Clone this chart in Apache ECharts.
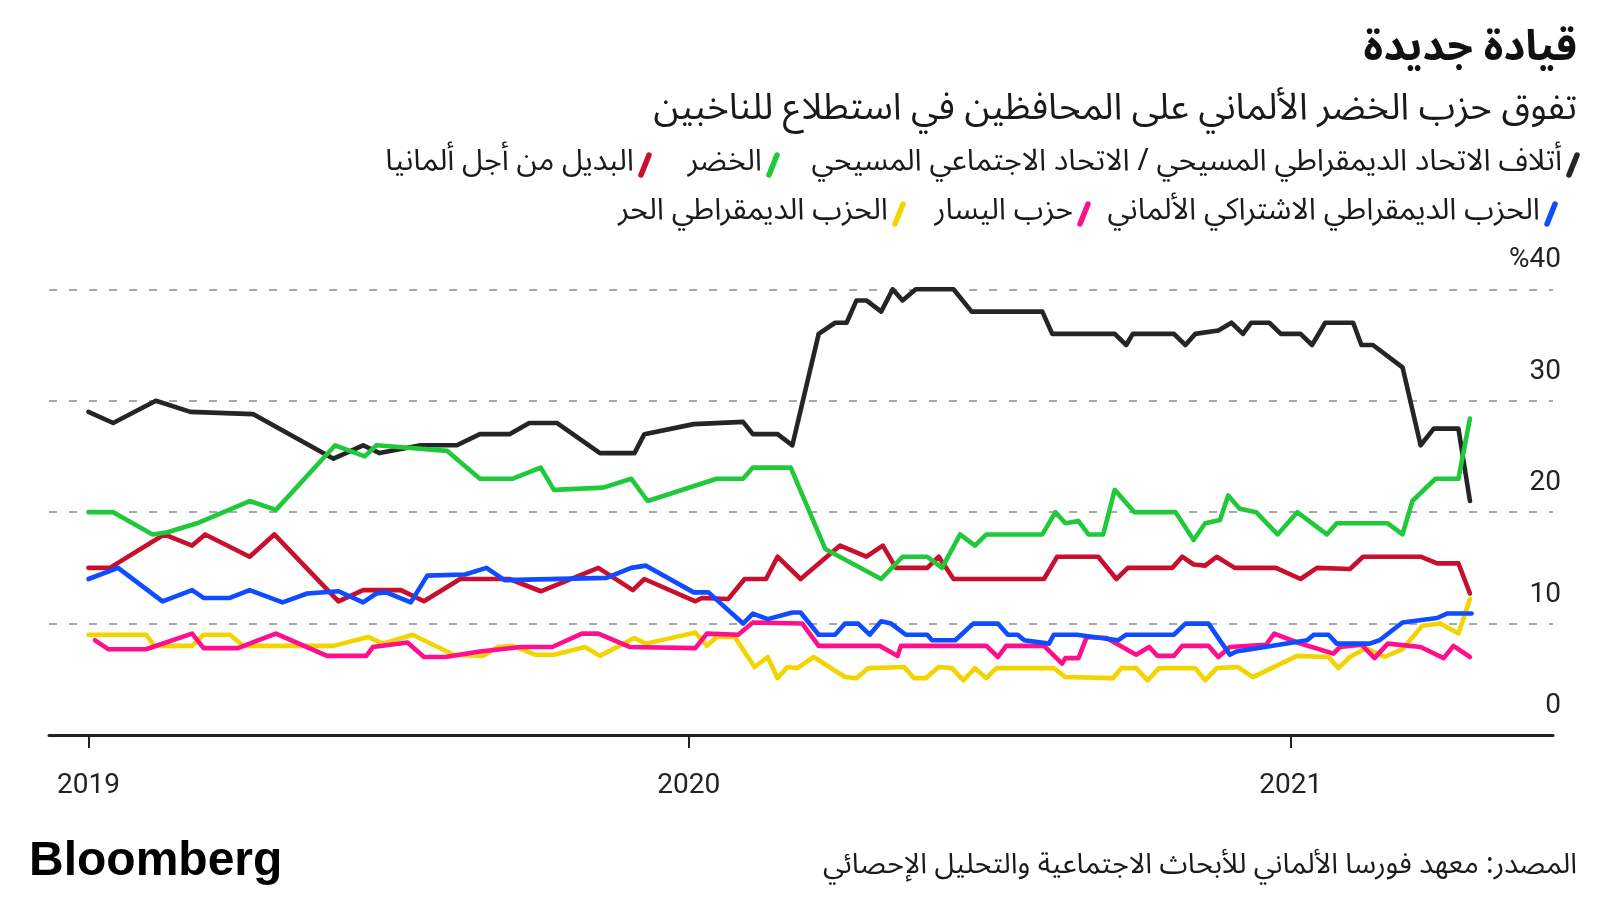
<!DOCTYPE html>
<html><head><meta charset="utf-8">
<script src="https://cdn.jsdelivr.net/npm/echarts@6/dist/echarts.min.js"></script>
<style>html,body{margin:0;padding:0;background:#fff}#c{width:1600px;height:900px}</style>
</head><body><div id="c"></div>
<script>
// ---------- DATA ----------
const xTickLabels = ['2019', '2020', '2021'];
const yTicks = [0, 10, 20, 30, 40];
const yTickLabels = ['0', '10', '20', '30', '%40'];

const seriesNames = [
  'أتلاف الاتحاد الديمقراطي المسيحي / الاتحاد الاجتماعي المسيحي',
  'الخضر',
  'البديل من أجل ألمانيا',
  'الحزب الديمقراطي الاشتراكي الألماني',
  'حزب اليسار',
  'الحزب الديمقراطي الحر'
];

const cduCsu = [['2019-01-01',29],['2019-01-16',28],['2019-02-11',30],['2019-03-04',29],['2019-04-11',28.8],['2019-05-30',24.8],['2019-06-17',26],['2019-06-27',25.3],['2019-07-22',26],['2019-08-13',26],['2019-08-27',27],['2019-09-14',27],['2019-09-26',28],['2019-10-13',28],['2019-11-08',25.3],['2019-11-29',25.3],['2019-12-05',27],['2020-01-04',27.9],['2020-02-03',28.1],['2020-02-09',27],['2020-02-24',27],['2020-03-04',26],['2020-03-20',36],['2020-03-30',37],['2020-04-06',37],['2020-04-12',39],['2020-04-18',39],['2020-04-27',38],['2020-05-04',40],['2020-05-10',39],['2020-05-18',40],['2020-06-10',40],['2020-06-21',38],['2020-08-03',38],['2020-08-09',36],['2020-09-16',36],['2020-09-23',35],['2020-09-27',36],['2020-10-22',36],['2020-10-29',35],['2020-11-04',36],['2020-11-18',36.3],['2020-11-26',37],['2020-12-03',36],['2020-12-08',37],['2020-12-19',37],['2020-12-26',36],['2021-01-07',36],['2021-01-14',35],['2021-01-22',37],['2021-02-08',37],['2021-02-13',35],['2021-02-20',35],['2021-03-10',33],['2021-03-21',26],['2021-03-29',27.5],['2021-04-13',27.5],['2021-04-20',21]];

const greens = [['2019-01-01',20],['2019-01-16',20],['2019-02-09',18],['2019-02-18',18.2],['2019-03-08',19],['2019-04-09',21],['2019-04-25',20.2],['2019-05-31',26],['2019-06-18',25],['2019-06-25',26],['2019-08-07',25.5],['2019-08-27',23],['2019-09-16',23],['2019-10-03',24],['2019-10-11',22],['2019-11-10',22.2],['2019-11-27',23],['2019-12-07',21],['2020-01-18',23],['2020-02-03',23],['2020-02-09',24],['2020-03-03',24],['2020-03-24',16.7],['2020-04-27',14],['2020-05-10',16],['2020-05-25',16],['2020-06-03',15],['2020-06-14',18],['2020-06-23',17],['2020-06-30',18],['2020-08-03',18],['2020-08-11',20],['2020-08-17',19],['2020-08-25',19.2],['2020-08-31',18],['2020-09-09',18],['2020-09-16',22],['2020-09-28',20],['2020-10-23',20],['2020-11-03',17.5],['2020-11-10',19],['2020-11-19',19.3],['2020-11-24',21.5],['2020-12-01',20.3],['2020-12-11',20],['2020-12-24',18],['2021-01-05',20],['2021-01-23',18],['2021-01-29',19],['2021-03-01',19],['2021-03-10',18],['2021-03-16',21],['2021-03-30',23],['2021-04-13',23],['2021-04-20',28.4]];

const afd = [['2019-01-01',15],['2019-01-14',15],['2019-02-16',18],['2019-03-05',17],['2019-03-13',18],['2019-04-09',16],['2019-04-24',18],['2019-06-02',12],['2019-06-17',13],['2019-07-10',13],['2019-07-24',12],['2019-08-15',14],['2019-09-14',14],['2019-10-03',12.9],['2019-11-07',15],['2019-11-28',13],['2019-12-05',14],['2020-01-05',12],['2020-01-09',12.3],['2020-01-25',12.2],['2020-02-04',14],['2020-02-17',14],['2020-02-24',16],['2020-03-09',14],['2020-04-02',17],['2020-04-18',16],['2020-04-28',17],['2020-05-06',15],['2020-05-25',15],['2020-06-01',16],['2020-06-10',14],['2020-08-04',14],['2020-08-12',16],['2020-09-06',16],['2020-09-17',14],['2020-09-24',15],['2020-10-21',15],['2020-10-27',16],['2020-11-03',15.3],['2020-11-10',15.2],['2020-11-17',16],['2020-11-28',15],['2020-12-23',15],['2021-01-07',14],['2021-01-17',15],['2021-02-06',14.9],['2021-02-14',16],['2021-03-21',16],['2021-03-31',15.4],['2021-04-13',15.4],['2021-04-20',12.7]];

const spd = [['2019-01-01',14],['2019-01-19',15],['2019-02-15',12],['2019-03-05',13],['2019-03-12',12.3],['2019-03-28',12.3],['2019-04-09',13],['2019-04-29',11.9],['2019-05-14',12.7],['2019-06-02',12.9],['2019-06-17',11.9],['2019-06-25',12.7],['2019-07-01',12.8],['2019-07-16',11.9],['2019-07-26',14.3],['2019-08-18',14.4],['2019-08-31',15],['2019-09-11',13.9],['2019-11-12',14.1],['2019-11-27',15],['2019-12-06',15.2],['2020-01-04',12.8],['2020-01-13',12.8],['2020-02-03',10],['2020-02-09',10.9],['2020-02-18',10.4],['2020-03-04',11],['2020-03-09',11],['2020-03-20',9],['2020-03-30',9],['2020-04-05',10],['2020-04-13',10],['2020-04-20',9],['2020-04-27',10.2],['2020-05-03',10],['2020-05-12',9],['2020-05-25',9],['2020-05-28',8.5],['2020-06-11',8.5],['2020-06-22',10],['2020-07-07',10],['2020-07-13',9],['2020-07-19',9],['2020-07-23',8.5],['2020-08-07',8.2],['2020-08-10',9],['2020-08-24',9],['2020-09-18',8.5],['2020-09-23',9],['2020-10-22',9],['2020-10-29',10],['2020-11-12',10],['2020-11-25',7.2],['2020-11-29',7.5],['2021-01-11',8.5],['2021-01-15',9],['2021-01-24',9],['2021-01-29',8.2],['2021-02-18',8.2],['2021-02-24',8.5],['2021-03-10',10.1],['2021-03-31',10.5],['2021-04-06',10.9],['2021-04-21',10.9]];

const linke = [['2019-01-05',8.5],['2019-01-13',7.7],['2019-02-05',7.7],['2019-03-05',9.1],['2019-03-12',7.8],['2019-04-02',7.8],['2019-04-14',8.5],['2019-04-25',9.1],['2019-05-26',7.1],['2019-06-19',7.1],['2019-06-23',7.9],['2019-07-14',8.3],['2019-07-24',7],['2019-08-06',7],['2019-08-27',7.5],['2019-09-21',7.9],['2019-10-10',7.9],['2019-10-28',9.1],['2019-11-07',9.1],['2019-11-26',7.9],['2020-01-05',7.8],['2020-01-12',9.1],['2020-01-31',9],['2020-02-09',10.1],['2020-03-10',10],['2020-03-20',8],['2020-04-26',8],['2020-05-07',7.1],['2020-05-09',8],['2020-06-30',8],['2020-07-07',7],['2020-07-12',8],['2020-08-04',8],['2020-08-15',6.4],['2020-08-17',6.9],['2020-08-25',6.9],['2020-08-30',8.8],['2020-09-11',8.7],['2020-09-29',7.2],['2020-10-07',7.9],['2020-10-12',7.1],['2020-10-22',7.1],['2020-10-27',8],['2020-11-12',8],['2020-11-18',7],['2020-11-25',7.9],['2020-12-17',8.1],['2020-12-22',9.1],['2021-01-05',8.3],['2021-01-27',7.3],['2021-01-31',7.9],['2021-02-13',8.1],['2021-02-21',6.9],['2021-03-01',8.2],['2021-03-21',7.9],['2021-04-04',6.9],['2021-04-10',8],['2021-04-20',7]];

const fdp = [['2019-01-01',9],['2019-02-05',9],['2019-02-10',8],['2019-03-05',8],['2019-03-12',9],['2019-03-28',9],['2019-04-05',8],['2019-05-30',8],['2019-06-20',8.8],['2019-06-29',8.2],['2019-07-17',9],['2019-08-11',7.2],['2019-08-29',7.1],['2019-09-07',7.9],['2019-09-16',8],['2019-09-30',7.2],['2019-10-11',7.2],['2019-10-30',7.9],['2019-11-08',7.1],['2019-11-29',8.7],['2019-12-06',8.2],['2020-01-05',9.2],['2020-01-12',8],['2020-01-18',8.8],['2020-01-29',8.8],['2020-02-10',6.1],['2020-02-18',7],['2020-02-24',5.1],['2020-03-01',6.1],['2020-03-07',6],['2020-03-17',7],['2020-04-05',5.2],['2020-04-12',5.1],['2020-04-19',6],['2020-05-11',6.1],['2020-05-17',5.1],['2020-05-24',5.1],['2020-06-01',6.1],['2020-06-09',6],['2020-06-16',4.9],['2020-06-23',6],['2020-06-30',5.1],['2020-07-06',6],['2020-08-10',6],['2020-08-17',5.2],['2020-09-15',5.1],['2020-09-20',6],['2020-09-29',6],['2020-10-06',4.9],['2020-10-13',6],['2020-11-04',6],['2020-11-10',4.9],['2020-11-17',6],['2020-11-30',6.1],['2020-12-09',5.2],['2021-01-05',7.1],['2021-01-24',7],['2021-01-30',6],['2021-02-06',7],['2021-02-16',7.8],['2021-02-27',7],['2021-03-10',7.7],['2021-03-22',9.8],['2021-04-02',10],['2021-04-13',9.1],['2021-04-20',12.2]];

// ---------- STYLE / LAYOUT ----------
const colors = ['#252525', '#1fc93a', '#c8102e', '#0f4bff', '#ff0f8c', '#f2d400'];
const AR = '"Noto Sans Arabic","DejaVu Sans",sans-serif';
const NUM = 'Roboto, "Liberation Sans", sans-serif';
const toTs = s => { const p = s.split('-').map(Number); return new Date(p[0], p[1] - 1, p[2]).getTime(); };
const yearTs = xTickLabels.map(y => new Date(+y, 0, 1).getTime());

const chart = echarts.init(document.getElementById('c'), null, { renderer: 'canvas' });

const dataSets = [cduCsu, greens, afd, spd, linke, fdp];
const drawOrder = [5, 4, 2, 3, 0, 1]; // yellow, pink, red, blue, black, green (top)
const series = drawOrder.map((i, k) => ({
  type: 'line', name: seriesNames[i], data: dataSets[i].map(d => [toTs(d[0]), d[1]]),
  showSymbol: false, symbol: 'none', z: 2 + k, animation: false,
  lineStyle: { color: colors[i], width: 4.6, cap: 'round', join: 'round' }
}));

// legend as graphic (RTL: marker at right of text)
const legendLayout = [
  { i: 0, mx: 1573, cy: 165 }, { i: 1, mx: 773, cy: 165 }, { i: 2, mx: 645, cy: 165 },
  { i: 3, mx: 1551, cy: 214 }, { i: 4, mx: 1084, cy: 214 }, { i: 5, mx: 899, cy: 214 }
];
const graphics = [];
legendLayout.forEach(l => {
  graphics.push({ type: 'line', shape: { x1: l.mx - 4, y1: l.cy + 10, x2: l.mx + 4, y2: l.cy - 10 },
    style: { stroke: colors[l.i], lineWidth: 5.5, lineCap: 'round' } });
  graphics.push({ type: 'text', x: l.mx - 11, y: l.cy,
    style: { text: seriesNames[l.i], font: '30px ' + AR, fill: '#1a1a1a', align: 'right', verticalAlign: 'middle' } });
});
graphics.push({ type: 'text', x: 1577, y: 54,
  style: { text: 'قيادة جديدة', font: 'bold 42px ' + AR, fill: '#111', align: 'right', verticalAlign: 'middle' } });
graphics.push({ type: 'text', x: 1577, y: 113,
  style: { text: 'تفوق حزب الخضر الألماني على المحافظين في استطلاع للناخبين', font: '37px ' + AR, fill: '#1a1a1a', align: 'right', verticalAlign: 'middle' } });
graphics.push({ type: 'text', x: 1577, y: 869,
  style: { text: 'المصدر: معهد فورسا الألماني للأبحاث الاجتماعية والتحليل الإحصائي', font: '28.5px ' + AR, fill: '#1a1a1a', align: 'right', verticalAlign: 'middle' } });
graphics.push({ type: 'text', x: 29, y: 862,
  style: { text: 'Bloomberg', font: 'bold 48px "Liberation Sans", Arial, sans-serif', fill: '#000', align: 'left', verticalAlign: 'middle' } });

chart.setOption({
  animation: false,
  backgroundColor: '#ffffff',
  grid: { left: 49, right: 47, top: 289.3, bottom: 165, containLabel: false },
  xAxis: {
    type: 'value',
    min: new Date(2018, 11, 8).getTime(),
    max: new Date(2021, 5, 9, 12).getTime(),
    axisLine: { show: true, onZero: false, lineStyle: { color: '#222', width: 3 } },
    axisTick: { show: true, customValues: yearTs, length: 13, lineStyle: { color: '#222', width: 2 } },
    axisLabel: { customValues: yearTs, color: '#222', fontSize: 28, fontFamily: NUM, margin: 37,
      formatter: v => { const i = yearTs.indexOf(v); return i >= 0 ? xTickLabels[i] : String(new Date(v).getFullYear()); } },
    splitLine: { show: false }
  },
  yAxis: {
    type: 'value', position: 'right', min: 0, max: 40, interval: 10,
    axisLine: { show: false }, axisTick: { show: false },
    axisLabel: { formatter: v => yTickLabels[yTicks.indexOf(v)], align: 'right', margin: 8,
      verticalAlign: 'bottom', lineHeight: 28, padding: [0, 0, 15, 0], fontSize: 28, fontFamily: NUM, color: '#222' },
    splitLine: { show: true, lineStyle: { color: '#8c8c8c', width: 1.5, type: [8, 12] } }
  },
  graphic: graphics,
  series: series
});
</script>
</body></html>
